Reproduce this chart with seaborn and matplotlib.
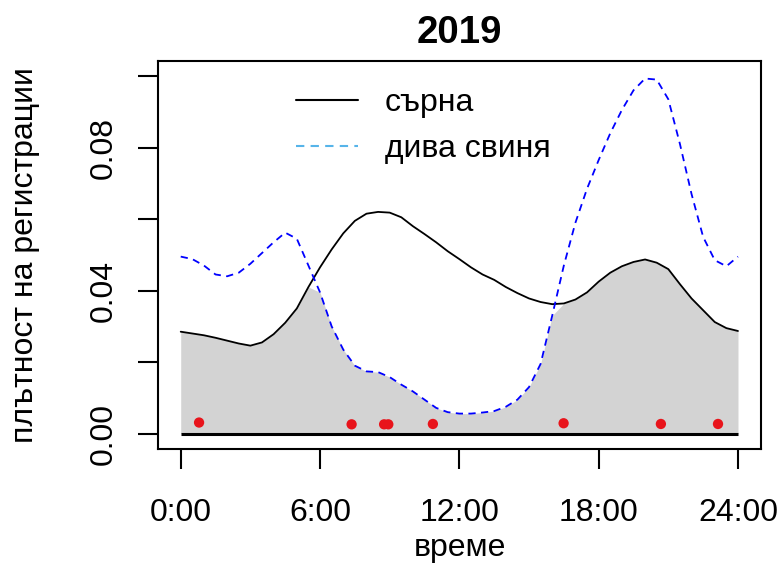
import matplotlib
matplotlib.use("Agg")
import matplotlib.pyplot as plt
import numpy as np
import pandas as pd
import seaborn as sns
from matplotlib.lines import Line2D

# activity density curves, read every half hour (0:00 .. 24:00)
hours = np.arange(0, 24.5, 0.5)
roe_deer = [
    0.0285, 0.0280, 0.0275, 0.0268, 0.0260, 0.0252, 0.0246, 0.0255, 0.0278, 0.0310,
    0.0350, 0.0410, 0.0465, 0.0515, 0.0560, 0.0595, 0.0615, 0.0620, 0.0618, 0.0605,
    0.0580, 0.0558, 0.0535, 0.0510, 0.0488, 0.0465, 0.0445, 0.0430, 0.0410, 0.0393,
    0.0378, 0.0368, 0.0362, 0.0364, 0.0375, 0.0395, 0.0425, 0.0450, 0.0468, 0.0480,
    0.0487, 0.0478, 0.0460, 0.0418, 0.0378, 0.0345, 0.0312, 0.0295, 0.0287,
]
wild_boar = [
    0.0495, 0.0488, 0.0470, 0.0445, 0.0440, 0.0450, 0.0475, 0.0505, 0.0535, 0.0562,
    0.0545, 0.0470, 0.0395, 0.0300, 0.0235, 0.0190, 0.0174, 0.0172, 0.0158, 0.0137,
    0.0118, 0.0095, 0.0072, 0.0060, 0.0056, 0.0056, 0.0059, 0.0063, 0.0075, 0.0095,
    0.0130, 0.0195, 0.0330, 0.0470, 0.0590, 0.0685, 0.0765, 0.0840, 0.0905, 0.0960,
    0.0993, 0.0990, 0.0935, 0.0810, 0.0670, 0.0550, 0.0485, 0.0468, 0.0495,
]

# single records (red dots)
dot_hours = [0.79, 7.36, 8.76, 8.94, 10.86, 16.49, 20.68, 23.14]
dot_values = [0.0031, 0.0026, 0.0026, 0.0026, 0.0027, 0.0029, 0.0027, 0.0027]

labels = ["сърна", "дива свиня"]
x_ticks = [0, 6, 12, 18, 24]
x_tick_labels = ["0:00", "6:00", "12:00", "18:00", "24:00"]
y_ticks = [0.00, 0.02, 0.04, 0.06, 0.08, 0.10]
y_tick_labels = ["0.00", "", "0.04", "", "0.08", ""]

df = pd.DataFrame({"hour": hours, "roe": roe_deer, "boar": wild_boar})
df["overlap"] = np.minimum(df["roe"], df["boar"])
dots = pd.DataFrame({"hour": dot_hours, "value": dot_values})

sns.set_style("ticks")
plt.rcParams["font.family"] = ["Liberation Sans", "DejaVu Sans"]
plt.rcParams["text.color"] = "black"

fig = plt.figure(figsize=(7.82, 5.69), dpi=100)
ax = fig.add_axes([0.2020, 0.2109, 0.7711, 0.6819])

# overlap area
ax.fill_between(df["hour"], 0, df["overlap"], color="#d3d3d3", lw=0, zorder=1)
ax.hlines(0, df["hour"].iloc[0], df["hour"].iloc[-1], color="black", lw=2.2, zorder=2)

sns.lineplot(data=df, x="hour", y="roe", color="black", lw=1.3, ax=ax, zorder=3)
sns.lineplot(data=df, x="hour", y="boar", color="blue", lw=1.3, ax=ax, zorder=3)
ax.lines[-1].set_dashes((4, 3))

sns.scatterplot(data=dots, x="hour", y="value", color="#e8141b", s=55,
                edgecolor="none", ax=ax, zorder=4)

ax.set_xlim(-0.98, 24.99)
ax.set_ylim(-0.0043, 0.1042)

ax.set_xticks(x_ticks)
ax.set_xticklabels(x_tick_labels)
ax.set_yticks(y_ticks)
ax.set_yticklabels(y_tick_labels, rotation=90, va="center")

ax.tick_params(axis="both", direction="out", length=14.4, width=1.5,
               color="black", labelsize=23, labelcolor="black")
ax.tick_params(axis="x", pad=21)
ax.tick_params(axis="y", pad=14)
for s in ax.spines.values():
    s.set_linewidth(1.5)
    s.set_color("black")

ax.set_xlabel("време", fontsize=23, color="black")
ax.set_ylabel("плътност на регистрации", fontsize=23, color="black")
ax.xaxis.set_label_coords(0.5, -0.216)
ax.yaxis.set_label_coords(-0.195, 0.5)
ax.set_title("2019", fontsize=27.6, fontweight="bold", pad=12.6, color="black")

handles = [
    Line2D([], [], color="black", lw=1.5),
    Line2D([], [], color="#56B4E9", lw=1.5, dashes=(4, 3)),
]
ax.legend(handles, labels, loc="upper left", bbox_to_anchor=(0.229, 0.930),
          frameon=False, fontsize=23, borderpad=0, borderaxespad=0,
          handlelength=1.94, handletextpad=0.84, labelspacing=0.51)

fig.savefig("out.png", dpi=100)
